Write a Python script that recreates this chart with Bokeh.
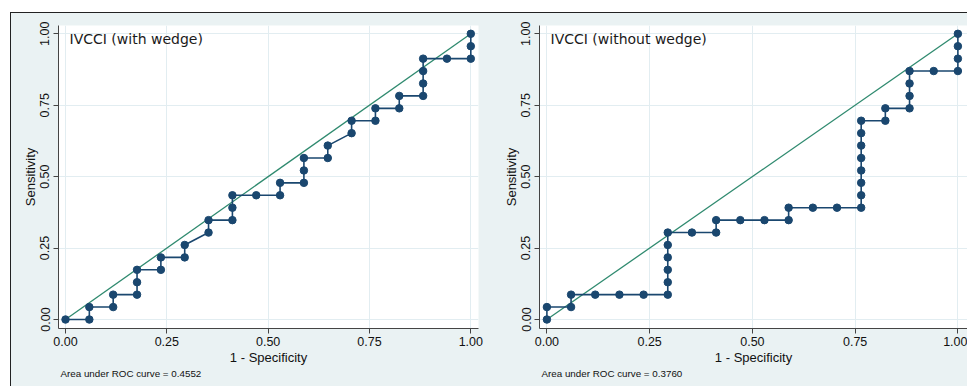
from bokeh.plotting import figure
from bokeh.layouts import row
from bokeh.models import Range1d, FixedTicker, Label, PrintfTickFormatter, ColumnDataSource, Title
from bokeh.embed import file_html
from bokeh.resources import INLINE

# ---- data ----
tick_values = [0.0, 0.25, 0.5, 0.75, 1.0]

fpr_with = [0, 0.0588, 0.0588, 0.1176, 0.1176, 0.1765, 0.1765, 0.1765, 0.2353, 0.2353,
            0.2941, 0.2941, 0.3529, 0.3529, 0.4118, 0.4118, 0.4118, 0.4706, 0.5294, 0.5294,
            0.5882, 0.5882, 0.5882, 0.6471, 0.6471, 0.7059, 0.7059, 0.7647, 0.7647, 0.8235,
            0.8235, 0.8824, 0.8824, 0.8824, 0.8824, 0.9412, 1.0, 1.0, 1.0]
sens_with = [0, 0, 0.0435, 0.0435, 0.0870, 0.0870, 0.1304, 0.1739, 0.1739, 0.2174,
             0.2174, 0.2609, 0.3043, 0.3478, 0.3478, 0.3913, 0.4348, 0.4348, 0.4348, 0.4783,
             0.4783, 0.5217, 0.5652, 0.5652, 0.6087, 0.6522, 0.6957, 0.6957, 0.7391, 0.7391,
             0.7826, 0.7826, 0.8261, 0.8696, 0.9130, 0.9130, 0.9130, 0.9565, 1.0]

fpr_without = [0, 0, 0.0588, 0.0588, 0.1176, 0.1765, 0.2353, 0.2941, 0.2941, 0.2941,
               0.2941, 0.2941, 0.2941, 0.3529, 0.4118, 0.4118, 0.4706, 0.5294, 0.5882, 0.5882,
               0.6471, 0.7059, 0.7647, 0.7647, 0.7647, 0.7647, 0.7647, 0.7647, 0.7647, 0.7647,
               0.8235, 0.8235, 0.8824, 0.8824, 0.8824, 0.8824, 0.9412, 1.0, 1.0, 1.0, 1.0]
sens_without = [0, 0.0435, 0.0435, 0.0870, 0.0870, 0.0870, 0.0870, 0.0870, 0.1304, 0.1739,
                0.2174, 0.2609, 0.3043, 0.3043, 0.3043, 0.3478, 0.3478, 0.3478, 0.3478, 0.3913,
                0.3913, 0.3913, 0.3913, 0.4348, 0.4783, 0.5217, 0.5652, 0.6087, 0.6522, 0.6957,
                0.6957, 0.7391, 0.7391, 0.7826, 0.8261, 0.8696, 0.8696, 0.8696, 0.9130, 0.9565, 1.0]

ref_x = [0.0, 1.0]
ref_y = [0.0, 1.0]

titles = ["IVCCI (with wedge)", "IVCCI (without wedge)"]
auc_texts = ["Area under ROC curve = 0.4552", "Area under ROC curve = 0.3760"]
x_label = "1 - Specificity"
y_label = "Sensitivity"

NAVY = "#1A476F"
GREEN = "#2F8A6F"
BG = "#EAF2F3"
FONT = "Liberation Sans"


def make_panel(width, left, right, xr, fpr, sens, title, auc):
    p = figure(width=width, height=370, output_backend="svg", toolbar_location=None,
               x_range=Range1d(*xr), y_range=Range1d(-0.0315, 1.029),
               min_border_left=left, min_border_right=right,
               min_border_top=12, min_border_bottom=55,
               background_fill_color="white", border_fill_color=BG,
               outline_line_color=None)
    for ax in (p.xaxis[0], p.yaxis[0]):
        ax.ticker = FixedTicker(ticks=tick_values)
        ax.formatter = PrintfTickFormatter(format="%.2f")
        ax.major_tick_out = 5
        ax.major_tick_in = 0
        ax.minor_tick_line_color = None
        ax.axis_line_color = "#444444"
        ax.major_tick_line_color = "#444444"
        ax.major_label_text_font = FONT
        ax.major_label_text_font_size = "12.5px"
        ax.major_label_text_color = "#111111"
        ax.axis_label_text_font = FONT
        ax.axis_label_text_font_size = "13px"
        ax.axis_label_text_font_style = "normal"
        ax.axis_label_text_color = "#111111"
    p.xaxis.axis_label = x_label
    p.yaxis.axis_label = y_label
    p.yaxis.major_label_orientation = "vertical"
    p.xaxis.major_label_standoff = 3
    p.yaxis.major_label_standoff = 4
    p.xaxis.axis_label_standoff = 1
    p.xaxis.axis_label_text_line_height = 0.75
    p.yaxis.axis_label_standoff = 0
    p.grid.grid_line_color = "#E2EDF1"
    p.grid.grid_line_width = 1

    p.line(ref_x, ref_y, line_color=GREEN, line_width=1.3)
    src = ColumnDataSource(dict(x=fpr, y=sens))
    p.line("x", "y", source=src, line_color=NAVY, line_width=1.6)
    p.scatter("x", "y", source=src, size=7.5, fill_color=NAVY, line_color=NAVY)

    p.add_layout(Label(x=11, y=282, x_units="screen", y_units="screen", text=title,
                       text_font="DejaVu Sans", text_font_size="14px", text_color="#1a1a1a"))
    p.add_layout(Title(text=auc, align="left", offset=2, standoff=0, vertical_align="top",
                       text_font=FONT, text_font_size="9.8px", text_font_style="normal",
                       text_color="#111111"), "below")
    return p


p1 = make_panel(473, 47, 6, (-0.0173, 1.019), fpr_with, sens_with, titles[0], auc_texts[0])
p2 = make_panel(483, 55, 0, (-0.018, 1.0234), fpr_without, sens_without, titles[1], auc_texts[1])

layout = row(p1, p2, styles={"margin-left": "10px", "margin-top": "12px",
                             "padding-bottom": "3px",
                             "border-top": "1px solid #222", "border-left": "1px solid #222",
                             "background-color": BG})

open("out.html", "w").write(file_html(layout, INLINE))
